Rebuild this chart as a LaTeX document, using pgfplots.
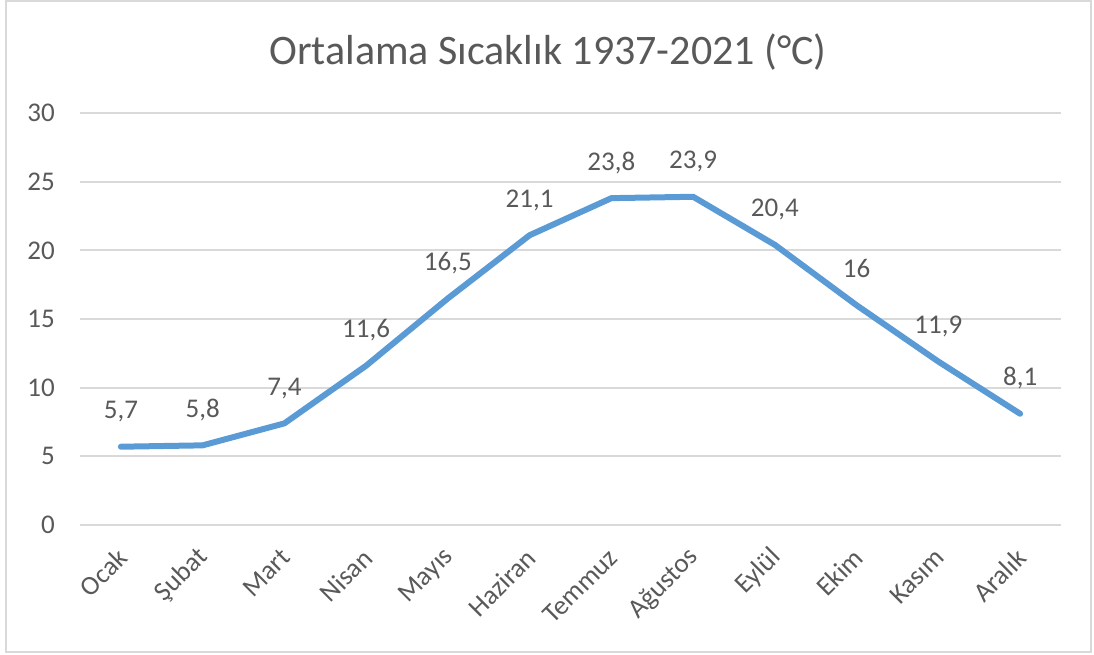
\documentclass[border=0pt]{standalone}
\usepackage{pgfplots}
\pgfplotsset{compat=1.18}
\usepackage{fontspec}
\setmainfont{Carlito}
\definecolor{txt}{HTML}{595959}
\definecolor{gridc}{HTML}{D9D9D9}
\definecolor{linec}{HTML}{5B9BD5}
\begin{document}
\begin{tikzpicture}[x=1pt,y=1pt]
\useasboundingbox (0,0) rectangle (1094,654);
\draw[gridc, line width=2pt] (6,2) rectangle (1091,653);
\node[txt, font=\fontsize{42}{50}\selectfont] at (548,602) {Ortalama Sıcaklık 1937-2021 (°C)};
\begin{axis}[
  at={(80pt,129pt)}, anchor=south west,
  scale only axis, width=981pt, height=412pt,
  xmin=-0.5, xmax=11.5, ymin=0, ymax=30,
  ytick={0,5,...,30},
  xtick={0,...,11},
  xticklabels={Ocak,Şubat,Mart,Nisan,Mayıs,Haziran,Temmuz,Ağustos,Eylül,Ekim,Kasım,Aralık},
  ymajorgrids, grid style={gridc, line width=2pt},
  axis line style={draw=none},
  major tick length=0pt,
  /pgf/number format/use comma,
  /pgf/number format/assume math mode=true,
  tick label style={txt, font=\fontsize{27}{32}\selectfont},
  y tick label style={anchor=east, inner sep=0pt, xshift=-25pt},
  x tick label style={xshift=4pt, yshift=-26pt, rotate=45, anchor=east},
  nodes near coords,
  every node near coord/.append style={txt, font=\fontsize{27}{32}\selectfont, anchor=base, inner sep=0pt, yshift=28pt},
  clip=false,
]
\addplot[linec, line width=6pt, line join=round, line cap=round, mark=none] coordinates {
(0,5.7) (1,5.8) (2,7.4) (3,11.6) (4,16.5) (5,21.1) (6,23.8) (7,23.9) (8,20.4) (9,16) (10,11.9) (11,8.1)
};
\end{axis}
\end{tikzpicture}
\end{document}
